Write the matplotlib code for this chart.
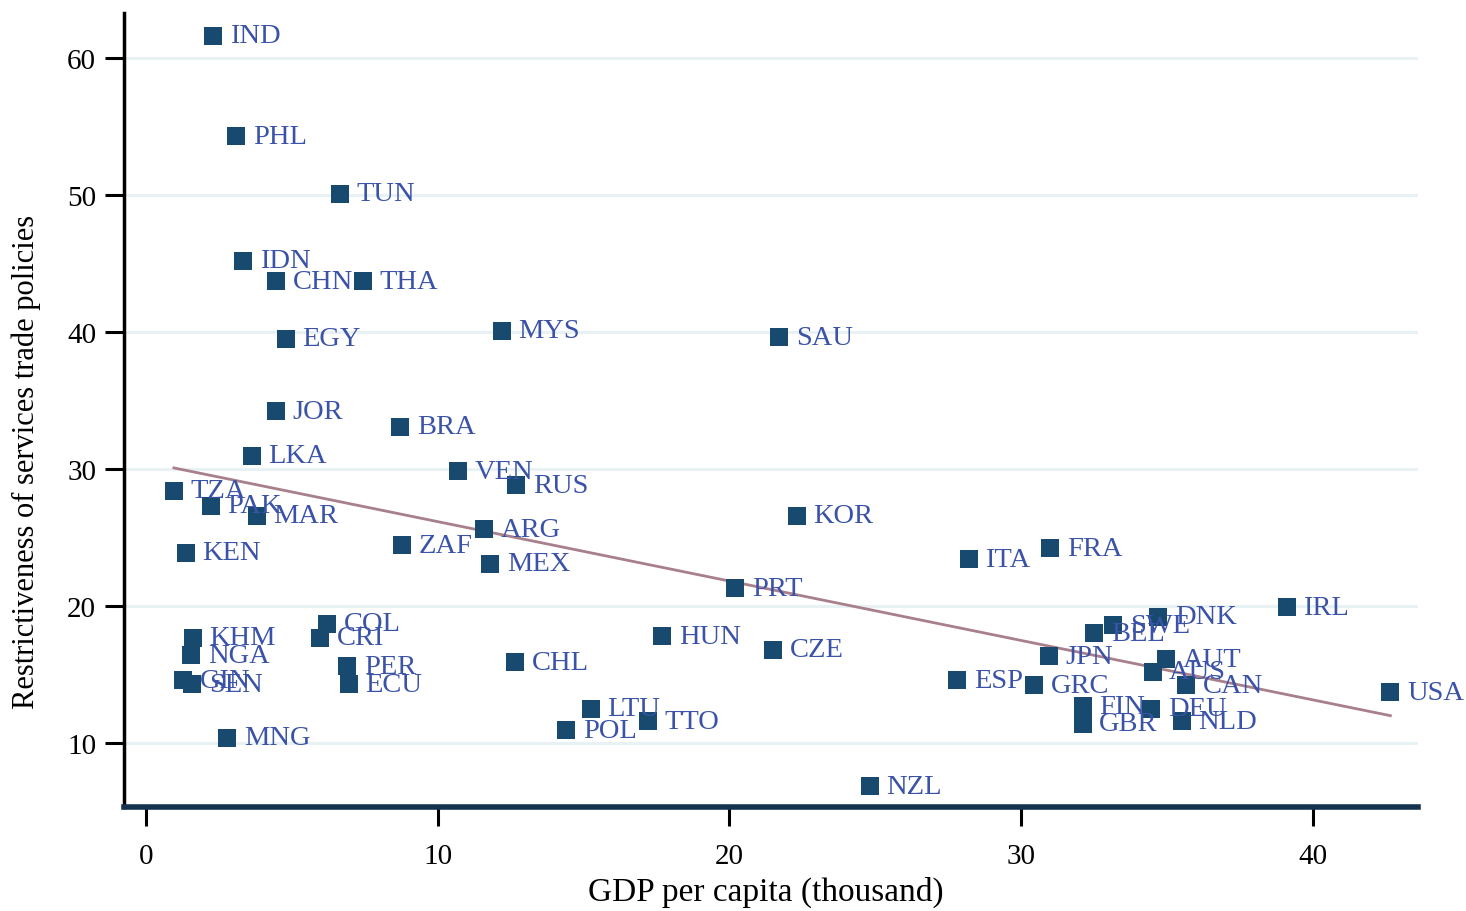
import numpy as np
import matplotlib
matplotlib.use("Agg")
import matplotlib.pyplot as plt

countries = ["IND", "PHL", "TUN", "IDN", "CHN", "THA", "EGY", "MYS", "SAU", "JOR",
             "BRA", "LKA", "VEN", "RUS", "TZA", "PAK", "MAR", "KEN", "ZAF", "ARG",
             "MEX", "KOR", "FRA", "ITA", "PRT", "IRL", "DNK", "BEL", "SWE", "HUN",
             "CZE", "KHM", "NGA", "GIN", "SEN", "MNG", "COL", "CRI", "PER", "ECU",
             "CHL", "LTU", "POL", "TTO", "NZL", "ESP", "GRC", "JPN", "FIN", "GBR",
             "DEU", "NLD", "AUT", "AUS", "CAN", "USA"]
gdp_per_capita = [2.30, 3.09, 6.65, 3.33, 4.46, 7.44, 4.80, 12.2, 21.7, 4.46,
                  8.71, 3.63, 10.7, 12.7, 0.96, 2.23, 3.80, 1.37, 8.78, 11.6,
                  11.8, 22.3, 31.0, 28.2, 20.2, 39.1, 34.7, 32.5, 33.15, 17.7,
                  21.5, 1.60, 1.55, 1.28, 1.58, 2.78, 6.20, 5.96, 6.90, 6.95,
                  12.65, 15.25, 14.4, 17.2, 24.8, 27.8, 30.45, 30.95, 32.1, 32.1,
                  34.45, 35.5, 34.97, 34.5, 35.65, 42.65]
restrictiveness = [61.6, 54.3, 50.1, 45.2, 43.7, 43.7, 39.5, 40.1, 39.6, 34.2,
                   33.1, 30.95, 29.85, 28.8, 28.4, 27.3, 26.6, 23.9, 24.45, 25.6,
                   23.1, 26.6, 24.2, 23.4, 21.3, 19.9, 19.2, 18.0, 18.6, 17.8,
                   16.8, 17.7, 16.4, 14.6, 14.3, 10.4, 18.7, 17.7, 15.6, 14.3,
                   15.9, 12.5, 10.95, 11.6, 6.85, 14.6, 14.2, 16.35, 12.7, 11.4,
                   12.5, 11.6, 16.1, 15.2, 14.2, 13.7]
x_ticks = [0, 10, 20, 30, 40]
y_ticks = [10, 20, 30, 40, 50, 60]

plt.rcParams['font.family'] = ['Liberation Serif', 'DejaVu Serif']

fig = plt.figure(figsize=(14.66, 9.12), dpi=100)
ax = fig.add_axes([0.0846, 0.114, 0.8827, 0.871])

x = np.array(gdp_per_capita)
y = np.array(restrictiveness)

for yt in y_ticks:
    ax.axhline(yt, color='#e8f1f3', lw=2.2, zorder=0)

slope, intercept = np.polyfit(x, y, 1)
xf = np.array([x.min(), x.max()])
ax.plot(xf, intercept + slope * xf, color='#a8808c', lw=2, zorder=2)

ax.scatter(x, y, marker='s', s=155, color='#184a70', zorder=3, linewidths=0)

for c, xi, yi in zip(countries, x, y):
    ax.annotate(c, (xi, yi), xytext=(12, 0), textcoords='offset points',
                va='center', ha='left', fontsize=20.5, color='#3a52a8', zorder=4)

ax.set_xlim(-0.75, 43.6)
ax.set_ylim(5.33, 63.3)
ax.set_xticks(x_ticks)
ax.set_yticks(y_ticks)
ax.tick_params(axis='both', labelsize=21, length=14, width=2.2, color='black')
ax.tick_params(axis='y', pad=6)
ax.tick_params(axis='x', pad=12)

for s in ['top', 'right']:
    ax.spines[s].set_visible(False)
ax.spines['left'].set_linewidth(2.5)
ax.spines['left'].set_color('black')
ax.spines['bottom'].set_linewidth(4)
ax.spines['bottom'].set_color('#15324f')

ax.set_xlabel('GDP per capita (thousand)', fontsize=24, va='center')
ax.xaxis.set_label_coords(0.496, -0.106)
ax.set_ylabel('Restrictiveness of services trade policies', fontsize=22)
ax.yaxis.set_label_coords(-0.064, 0.436)

fig.savefig('out.png', dpi=100)
